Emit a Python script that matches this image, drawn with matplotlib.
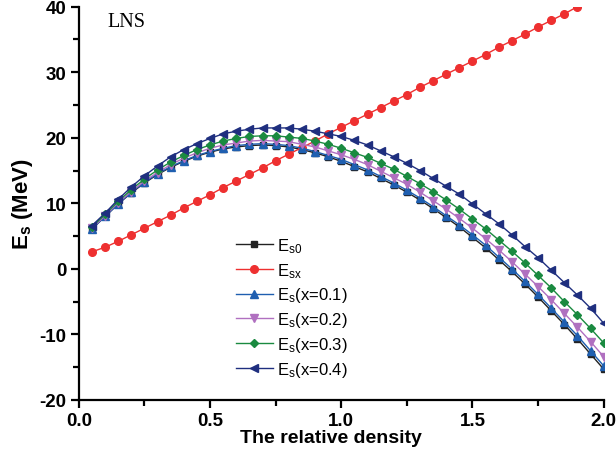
import numpy as np
import matplotlib
matplotlib.use("Agg")
import matplotlib.pyplot as plt
from matplotlib.ticker import MultipleLocator

density = [0.05, 0.10, 0.15, 0.20, 0.25, 0.30, 0.35, 0.40, 0.45, 0.50,
           0.55, 0.60, 0.65, 0.70, 0.75, 0.80, 0.85, 0.90, 0.95, 1.00,
           1.05, 1.10, 1.15, 1.20, 1.25, 1.30, 1.35, 1.40, 1.45, 1.50,
           1.55, 1.60, 1.65, 1.70, 1.75, 1.80, 1.85, 1.90, 1.95, 2.00]

E_s0 = [6.1, 8.0, 9.9, 11.6, 13.1, 14.4, 15.5, 16.4, 17.2, 17.8,
        18.3, 18.6, 18.8, 18.9, 18.8, 18.6, 18.2, 17.7, 17.1, 16.4,
        15.6, 14.8, 13.8, 12.8, 11.7, 10.5, 9.2, 7.8, 6.4, 4.8,
        3.2, 1.4, -0.4, -2.3, -4.3, -6.4, -8.5, -10.7, -13.0, -15.3]

E_sx = [2.6, 3.3, 4.2, 5.2, 6.2, 7.2, 8.2, 9.3, 10.3, 11.3,
        12.4, 13.4, 14.4, 15.4, 16.5, 17.5, 18.5, 19.5, 20.6, 21.6,
        22.6, 23.6, 24.6, 25.6, 26.6, 27.7, 28.7, 29.7, 30.7, 31.7,
        32.7, 33.8, 34.8, 35.8, 36.9, 37.9, 38.9, 40.0, 41.0, 42.0]

E_s_x01 = [6.1, 8.0, 9.9, 11.7, 13.2, 14.5, 15.6, 16.5, 17.3, 17.9,
           18.4, 18.8, 19.0, 19.1, 19.0, 18.8, 18.4, 17.9, 17.3, 16.7,
           15.9, 15.1, 14.1, 13.1, 12.0, 10.8, 9.5, 8.1, 6.7, 5.2,
           3.6, 1.8, 0.0, -1.9, -3.9, -6.0, -8.1, -10.2, -12.5, -14.8]

E_s_x02 = [6.2, 8.1, 10.1, 11.8, 13.4, 14.7, 15.9, 16.9, 17.7, 18.4,
           18.9, 19.2, 19.5, 19.6, 19.5, 19.4, 19.0, 18.6, 18.0, 17.4,
           16.7, 15.9, 14.9, 13.9, 12.9, 11.7, 10.4, 9.1, 7.7, 6.2,
           4.6, 2.9, 1.1, -0.8, -2.7, -4.7, -6.8, -8.9, -11.1, -13.4]

E_s_x03 = [6.4, 8.3, 10.3, 12.1, 13.7, 15.1, 16.3, 17.3, 18.2, 18.9,
           19.5, 19.9, 20.2, 20.3, 20.3, 20.1, 19.9, 19.5, 19.0, 18.4,
           17.7, 17.0, 16.1, 15.2, 14.1, 13.0, 11.8, 10.5, 9.1, 7.6,
           6.1, 4.4, 2.7, 0.9, -1.0, -2.9, -5.0, -7.0, -9.1, -11.3]

E_s_x04 = [6.6, 8.5, 10.6, 12.5, 14.2, 15.7, 17.1, 18.2, 19.1, 19.9,
           20.6, 21.0, 21.3, 21.5, 21.5, 21.5, 21.3, 21.0, 20.6, 20.2,
           19.6, 18.9, 18.0, 17.1, 16.1, 15.0, 13.8, 12.6, 11.4, 9.9,
           8.4, 6.9, 5.2, 3.4, 1.7, -0.2, -2.1, -4.0, -6.0, -8.3]

series_labels = [r'E$_{\mathregular{s0}}$', r'E$_{\mathregular{sx}}$',
                 r'E$_{\mathregular{s}}$(x=0.1)', r'E$_{\mathregular{s}}$(x=0.2)',
                 r'E$_{\mathregular{s}}$(x=0.3)', r'E$_{\mathregular{s}}$(x=0.4)']

plt.rcParams['font.family'] = ['Liberation Sans', 'DejaVu Sans']
plt.rcParams['mathtext.fontset'] = 'custom'
plt.rcParams['mathtext.rm'] = 'Liberation Sans'
plt.rcParams['mathtext.it'] = 'Liberation Sans'
plt.rcParams['mathtext.bf'] = 'Liberation Sans:bold'
plt.rcParams['axes.unicode_minus'] = False

fig = plt.figure(figsize=(6.16, 4.52), dpi=100)
ax = fig.add_axes([0.128, 0.113, 0.852, 0.870])

styles = [
    (E_s0, '#222222', 's', 4.5),
    (E_sx, '#ee3030', 'o', 5.5),
    (E_s_x01, '#1f5fb0', '^', 5.5),
    (E_s_x02, '#b070c0', 'v', 5.5),
    (E_s_x03, '#1a8a40', 'D', 4.5),
    (E_s_x04, '#1f2f7f', '<', 5.5),
]
for (vals, col, mk, ms), lab in zip(styles, series_labels):
    ax.plot(density, vals, color=col, marker=mk, markersize=ms, lw=1.0,
            label=lab, clip_on=True)

ax.set_xlim(0, 2.0)
ax.set_ylim(-20, 40)
ax.xaxis.set_major_locator(MultipleLocator(0.5))
ax.xaxis.set_minor_locator(MultipleLocator(0.25))
ax.yaxis.set_major_locator(MultipleLocator(10))
ax.yaxis.set_minor_locator(MultipleLocator(5))
ax.xaxis.set_major_formatter(matplotlib.ticker.FormatStrFormatter('%.1f'))
ax.spines['top'].set_visible(False)
ax.spines['right'].set_visible(False)
for s in ('left', 'bottom'):
    ax.spines[s].set_linewidth(1.6)
ax.tick_params(which='major', direction='out', length=6, width=1.6,
               labelsize=13.5, pad=3)
ax.tick_params(which='minor', direction='out', length=4, width=1.6)
for lbl in ax.get_xticklabels() + ax.get_yticklabels():
    lbl.set_fontweight('bold')

ax.set_xlabel('The relative density', fontsize=14, fontweight='bold')
ax.xaxis.set_label_coords(0.48, -0.075)
ax.set_ylabel(r'E$_{\mathbf{s}}$ (MeV)', fontsize=16, fontweight='bold', labelpad=3)

ax.text(0.11, 37.8, 'LNS', fontsize=14.5, family='Liberation Serif',
        va='center', ha='left')

leg = ax.legend(loc='upper left', bbox_to_anchor=(0.287, 0.433), frameon=False,
                fontsize=12, handlelength=2.2, labelspacing=0.35,
                handletextpad=0.25, borderaxespad=0)

fig.savefig('out.png', dpi=100)
